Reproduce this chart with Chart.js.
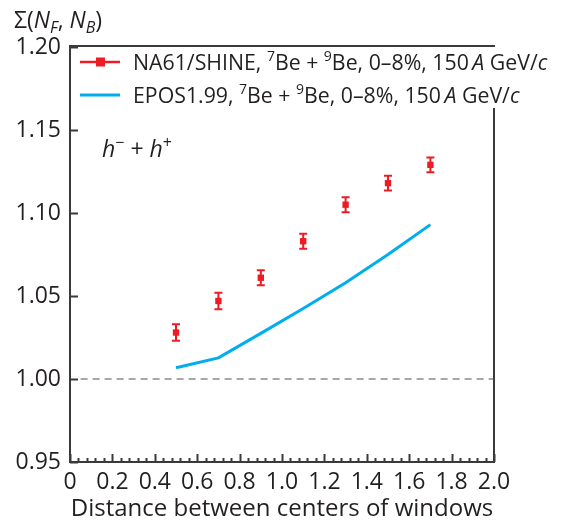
<!DOCTYPE html>
<html>
<head>
<meta charset="utf-8">
<script src="https://cdn.jsdelivr.net/npm/chart.js@4.4.1/dist/chart.umd.min.js"></script>
<style>
  html, body { margin: 0; padding: 0; background: #ffffff; }
  #wrap { width: 562px; height: 525px; }
</style>
</head>
<body>
<div id="wrap"><canvas id="c" width="562" height="525"></canvas></div>
<script>
// ---------- data ----------
const naX = [0.5, 0.7, 0.9, 1.1, 1.3, 1.5, 1.7];
const naY = [1.028, 1.047, 1.061, 1.083, 1.105, 1.118, 1.129];
const naErr = [0.005, 0.005, 0.0045, 0.0045, 0.0045, 0.0045, 0.0045];
const eposX = [0.5, 0.7, 0.9, 1.1, 1.3, 1.5, 1.7];
const eposY = [1.0068, 1.0127, 1.0275, 1.0425, 1.058, 1.075, 1.093];
const refX = [0.05, 2.0];
const refY = [1.0, 1.0];
const xTickValues = [0, 0.2, 0.4, 0.6, 0.8, 1.0, 1.2, 1.4, 1.6, 1.8, 2.0];
const xTickLabels = ['0', '0.2', '0.4', '0.6', '0.8', '1.0', '1.2', '1.4', '1.6', '1.8', '2.0'];
const xMinorValues = [];
for (let i = 0; i <= 50; i++) xMinorValues.push(i * 0.04);
const yTickValues = [0.95, 1.00, 1.05, 1.10, 1.15, 1.20];
const yTickLabels = ['0.95', '1.00', '1.05', '1.10', '1.15', '1.20'];

// ---------- styles ----------
const FONT = "'Open Sans', 'Noto Sans', sans-serif";
const TXT = '#231f20';
const RED = '#ED1C24';
const BLUE = '#00AEEF';
const AXIS = '#3a3a3a';

function fontFor(s, size) {
  const small = Math.round(size * 0.68);
  if (s === 'i') return `italic ${size}px ${FONT}`;
  if (s === 'sup' || s === 'sub') return `${small}px ${FONT}`;
  if (s === 'isub') return `italic ${small}px ${FONT}`;
  return `${size}px ${FONT}`;
}
function drawRich(ctx, x, y, segs, size) {
  ctx.save();
  ctx.fillStyle = TXT;
  ctx.textBaseline = 'alphabetic';
  ctx.textAlign = 'left';
  let cx = x;
  for (const [t, s] of segs) {
    ctx.font = fontFor(s, size);
    let dy = 0;
    if (s === 'sup') dy = -size * 0.38;
    if (s === 'sub' || s === 'isub') dy = size * 0.22;
    ctx.fillText(t, cx, y + dy);
    cx += ctx.measureText(t).width;
  }
  ctx.restore();
  return cx;
}

const legend1 = [['NA61/SHINE, ', 'n'], ['7', 'sup'], ['Be + ', 'n'], ['9', 'sup'], ['Be, 0\u20138%, 150\u2009', 'n'], ['A', 'i'], [' GeV/', 'n'], ['c', 'i']];
const legend2 = [['EPOS1.99, ', 'n'], ['7', 'sup'], ['Be + ', 'n'], ['9', 'sup'], ['Be, 0\u20138%, 150\u2009', 'n'], ['A', 'i'], [' GeV/', 'n'], ['c', 'i']];
const yTitle = [['\u03A3(', 'n'], ['N', 'i'], ['F', 'isub'], [', ', 'n'], ['N', 'i'], ['B', 'isub'], [')', 'n']];
const hLabel = [['h', 'i'], ['\u2212', 'sup'], [' + ', 'n'], ['h', 'i'], ['+', 'sup']];

const decorPlugin = {
  id: 'decor',
  beforeDatasetsDraw(chart) {
    const ctx = chart.ctx;
    const xs = chart.scales.x, ys = chart.scales.y;
    ctx.save();
    ctx.strokeStyle = RED;
    ctx.lineWidth = 2;
    for (let i = 0; i < naX.length; i++) {
      const px = xs.getPixelForValue(naX[i]);
      const p1 = ys.getPixelForValue(naY[i] - naErr[i]);
      const p2 = ys.getPixelForValue(naY[i] + naErr[i]);
      ctx.beginPath();
      ctx.moveTo(px, p1); ctx.lineTo(px, p2);
      ctx.moveTo(px - 4, p1); ctx.lineTo(px + 4, p1);
      ctx.moveTo(px - 4, p2); ctx.lineTo(px + 4, p2);
      ctx.stroke();
    }
    ctx.restore();
  },
  afterDraw(chart) {
    const ctx = chart.ctx;
    const a = chart.chartArea;
    const xs = chart.scales.x, ys = chart.scales.y;
    ctx.save();
    ctx.strokeStyle = AXIS;
    ctx.lineWidth = 2;
    ctx.beginPath();
    for (const v of xMinorValues) {
      const px = Math.round(xs.getPixelForValue(v)) + 0.5;
      const major = Math.abs(v / 0.2 - Math.round(v / 0.2)) < 1e-6;
      ctx.moveTo(px, a.bottom);
      ctx.lineTo(px, a.bottom - (major ? 8 : 4));
    }
    ctx.stroke();
    ctx.beginPath();
    for (const v of yTickValues) {
      const py = Math.round(ys.getPixelForValue(v)) + 0.5;
      ctx.moveTo(a.left, py);
      ctx.lineTo(a.left + 8, py);
    }
    ctx.stroke();
    ctx.beginPath();
    ctx.moveTo(a.left, a.top - 1);
    ctx.lineTo(a.left, a.bottom);
    ctx.lineTo(a.right, a.bottom);
    ctx.lineTo(a.right, a.top + 61);
    ctx.moveTo(a.left - 1, a.top - 1);
    ctx.lineTo(a.right + 1, a.top - 1);
    ctx.stroke();
    ctx.restore();

    const ly1 = a.top + 15, ly2 = a.top + 48;
    ctx.save();
    ctx.strokeStyle = RED; ctx.lineWidth = 2.5;
    ctx.beginPath(); ctx.moveTo(a.left + 10, ly1); ctx.lineTo(a.left + 50, ly1); ctx.stroke();
    ctx.fillStyle = RED;
    ctx.fillRect(a.left + 26, ly1 - 4.5, 9, 9);
    ctx.strokeStyle = BLUE; ctx.lineWidth = 3;
    ctx.beginPath(); ctx.moveTo(a.left + 10, ly2); ctx.lineTo(a.left + 50, ly2); ctx.stroke();
    ctx.restore();
    drawRich(ctx, a.left + 63, ly1 + 7.5, legend1, 21.3);
    drawRich(ctx, a.left + 63, ly2 + 7.5, legend2, 21.3);

    drawRich(ctx, 14, 28, yTitle, 23);
    drawRich(ctx, 102, 157, hLabel, 23);
  }
};

const ctx = document.getElementById('c').getContext('2d');
new Chart(ctx, {
  type: 'line',
  data: {
    datasets: [
      {
        label: 'ref',
        data: refX.map((x, i) => ({ x, y: refY[i] })),
        borderColor: '#8a8a8a',
        borderWidth: 1.5,
        borderDash: [7, 5],
        pointRadius: 0,
        fill: false
      },
      {
        label: 'EPOS1.99',
        data: eposX.map((x, i) => ({ x, y: eposY[i] })),
        borderColor: BLUE,
        borderWidth: 3,
        pointRadius: 0,
        tension: 0,
        fill: false
      },
      {
        label: 'NA61/SHINE',
        data: naX.map((x, i) => ({ x, y: naY[i] })),
        showLine: false,
        pointStyle: 'rect',
        pointRadius: 4.5,
        backgroundColor: RED,
        borderColor: RED,
        borderWidth: 0
      }
    ]
  },
  options: {
    responsive: false,
    animation: false,
    devicePixelRatio: 1,
    layout: { padding: { top: 47, right: 68, left: 0, bottom: 0 } },
    plugins: { legend: { display: false }, tooltip: { enabled: false }, title: { display: false } },
    scales: {
      x: {
        type: 'linear',
        min: 0, max: 2.0,
        afterFit(s) { s.height = 63; },
        afterBuildTicks(s) { s.ticks = xTickValues.map(v => ({ value: v })); },
        grid: { display: false, drawTicks: false },
        border: { display: false },
        ticks: {
          font: { family: FONT, size: 23 },
          color: TXT,
          padding: 7,
          maxRotation: 0,
          autoSkip: false,
          callback(v, i) { return xTickLabels[i]; }
        },
        title: {
          display: true,
          text: 'Distance between centers of windows',
          font: { family: FONT, size: 24 },
          color: TXT,
          padding: { top: 0, bottom: 1 }
        }
      },
      y: {
        type: 'linear',
        min: 0.95, max: 1.20,
        afterFit(s) { s.width = 70; },
        afterBuildTicks(s) { s.ticks = yTickValues.map(v => ({ value: v })); },
        grid: { display: false, drawTicks: false },
        border: { display: false },
        ticks: {
          font: { family: FONT, size: 23 },
          color: TXT,
          padding: 9,
          autoSkip: false,
          callback(v, i) { return yTickLabels[i]; }
        }
      }
    }
  },
  plugins: [decorPlugin]
});
</script>
</body>
</html>
